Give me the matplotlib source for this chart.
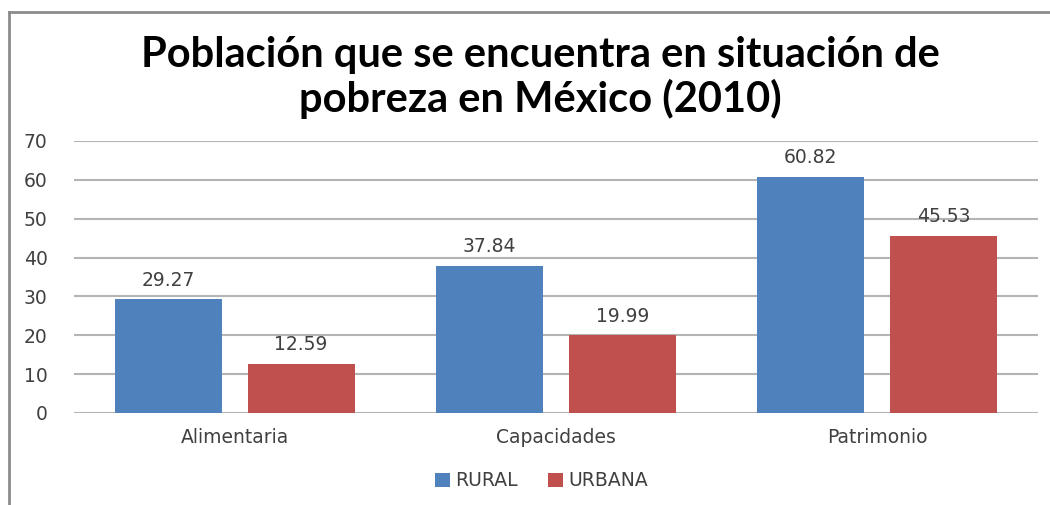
import numpy as np
import matplotlib.pyplot as plt
from matplotlib.lines import Line2D

categories = ["Alimentaria", "Capacidades", "Patrimonio"]
rural = [29.27, 37.84, 60.82]
urbana = [12.59, 19.99, 45.53]
series_names = ["RURAL", "URBANA"]
yticks = [0, 10, 20, 30, 40, 50, 60, 70]

blue = "#4F81BD"
red = "#C0504D"
text_col = "#404040"

fig = plt.figure(figsize=(10.5, 5.05), dpi=100)
ax = fig.add_axes([0.0705, 0.1822, 0.918, 0.5386])

x = np.arange(len(categories))
width = 0.333
gap = 0.081
b1 = ax.bar(x - (width + gap) / 2, rural, width, color=blue, label=series_names[0], zorder=3)
b2 = ax.bar(x + (width + gap) / 2, urbana, width, color=red, label=series_names[1], zorder=3)

for rects, vals in [(b1, rural), (b2, urbana)]:
    for r, v in zip(rects, vals):
        ax.annotate("%.2f" % v, (r.get_x() + r.get_width() / 2, v),
                    xytext=(0, 7), textcoords="offset points",
                    ha="center", va="bottom", fontsize=13.5, color=text_col,
                    family="DejaVu Sans")

ax.set_xlim(-0.5, 2.5)
ax.set_ylim(0, 70)
ax.set_yticks(yticks)
ax.set_xticks(x)
ax.set_xticklabels(categories)
ax.tick_params(axis="both", length=0, labelsize=13.5, labelcolor=text_col)
ax.tick_params(axis="y", pad=19)
ax.tick_params(axis="x", pad=11)
for t in ax.get_yticklabels():
    t.set_horizontalalignment("right")
ax.yaxis.grid(True, color="#B4B4B4", linewidth=1.5, zorder=0)
for s in ax.spines.values():
    s.set_visible(False)

fig.text(0.515, 0.765, "Población que se encuentra en situación de\npobreza en México (2010)",
         ha="center", va="bottom", fontsize=30, fontweight="bold",
         family="Lato", linespacing=1.15, color="black")

leg = fig.legend(handles=[b1, b2], loc="center", bbox_to_anchor=(0.516, 0.048),
                 ncol=2, frameon=False, fontsize=13.5, handlelength=0.8,
                 handleheight=0.75, handletextpad=0.3, columnspacing=1.6)
for t in leg.get_texts():
    t.set_color(text_col)

# outer chart frame (top and left edges visible)
fig.add_artist(Line2D([9 / 1050, 1.0], [1 - 12 / 505, 1 - 12 / 505],
                      transform=fig.transFigure, color="#8C8C8C", linewidth=2))
fig.add_artist(Line2D([9 / 1050, 9 / 1050], [0.0, 1 - 12 / 505],
                      transform=fig.transFigure, color="#8C8C8C", linewidth=2))

fig.savefig("out.png", dpi=100)
